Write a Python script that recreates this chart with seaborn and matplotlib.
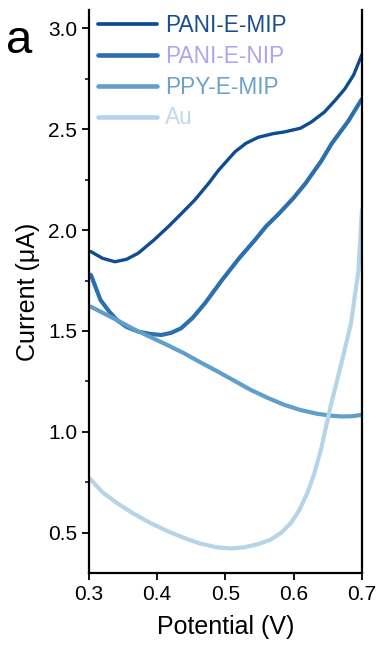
import matplotlib
matplotlib.use("Agg")
import matplotlib.pyplot as plt
from matplotlib.ticker import MultipleLocator
import seaborn as sns
import pandas as pd

# 数据
labels = ["PANI-E-MIP", "PANI-E-NIP", "PPY-E-MIP", "Au"]

x_mip = [0.300, 0.303, 0.320, 0.338, 0.355, 0.372, 0.395, 0.416, 0.435, 0.455, 0.475, 0.490,
         0.514, 0.530, 0.548, 0.570, 0.587, 0.610, 0.626, 0.645, 0.661, 0.675, 0.688, 0.700]
y_mip = [1.895, 1.893, 1.860, 1.843, 1.855, 1.885, 1.950, 2.016, 2.080, 2.149, 2.230, 2.297,
         2.388, 2.430, 2.460, 2.478, 2.487, 2.505, 2.536, 2.585, 2.644, 2.700, 2.770, 2.870]

x_nip = [0.300, 0.303, 0.317, 0.330, 0.341, 0.355, 0.372, 0.390, 0.406, 0.420, 0.435, 0.452,
         0.470, 0.495, 0.520, 0.543, 0.560, 0.578, 0.600, 0.617, 0.640, 0.656, 0.680, 0.700]
y_nip = [1.780, 1.777, 1.653, 1.595, 1.554, 1.520, 1.497, 1.485, 1.480, 1.490, 1.513, 1.565,
         1.637, 1.752, 1.860, 1.950, 2.020, 2.080, 2.160, 2.230, 2.340, 2.430, 2.540, 2.650]

x_ppy = [0.300, 0.303, 0.320, 0.341, 0.365, 0.390, 0.415, 0.439, 0.463, 0.488, 0.512, 0.537,
         0.562, 0.586, 0.610, 0.635, 0.655, 0.670, 0.685, 0.700]
y_ppy = [1.620, 1.620, 1.590, 1.554, 1.510, 1.470, 1.430, 1.390, 1.345, 1.300, 1.255, 1.208,
         1.168, 1.134, 1.108, 1.089, 1.080, 1.076, 1.077, 1.084]

x_au = [0.300, 0.303, 0.320, 0.341, 0.365, 0.390, 0.415, 0.439, 0.463, 0.488, 0.507, 0.527,
        0.548, 0.566, 0.582, 0.596, 0.608, 0.620, 0.630, 0.640, 0.654, 0.670, 0.684, 0.695, 0.700]
y_au = [0.770, 0.762, 0.700, 0.647, 0.595, 0.548, 0.508, 0.474, 0.446, 0.427, 0.422, 0.427,
        0.443, 0.465, 0.500, 0.548, 0.610, 0.696, 0.790, 0.911, 1.125, 1.340, 1.538, 1.800, 2.100]

series_x = [x_mip, x_nip, x_ppy, x_au]
series_y = [y_mip, y_nip, y_ppy, y_au]

line_colors = ["#0f4c91", "#2c6fad", "#609fcb", "#b6d4e8"]
text_colors = ["#1a4f8e", "#b3a3ee", "#6ba3c8", "#c2d9ea"]
line_widths = [2.4, 3.0, 3.0, 3.0]

df = pd.concat([
    pd.DataFrame({"Potential": xs, "Current": ys, "sample": lab})
    for xs, ys, lab in zip(series_x, series_y, labels)
], ignore_index=True)

sns.set_style("ticks")
plt.rcParams["font.family"] = ["Liberation Sans", "DejaVu Sans"]
plt.rcParams["text.color"] = "black"
plt.rcParams["axes.labelcolor"] = "black"
plt.rcParams["xtick.color"] = "black"
plt.rcParams["ytick.color"] = "black"

fig = plt.figure(figsize=(3.85, 6.59), dpi=100)
ax = fig.add_axes([0.231, 0.1305, 0.709, 0.854])

# 绘制曲线
for lab, col, lw in zip(labels, line_colors, line_widths):
    sns.lineplot(data=df[df["sample"] == lab], x="Potential", y="Current",
                 color=col, linewidth=lw, sort=False, ax=ax, label=lab,
                 solid_capstyle="round")

ax.set_xlim(0.3, 0.7)
ax.set_ylim(0.3, 3.09)
ax.set_xticks([0.3, 0.4, 0.5, 0.6, 0.7])
ax.set_yticks([0.5, 1.0, 1.5, 2.0, 2.5, 3.0])
ax.yaxis.set_minor_locator(MultipleLocator(0.25))
ax.tick_params(axis="both", which="major", direction="out", length=5, width=1.3,
               labelsize=15, color="black", labelcolor="black")
ax.tick_params(axis="y", which="minor", direction="out", length=3, width=1.1)
ax.set_xticklabels(["0.3", "0.4", "0.5", "0.6", "0.7"])
ax.set_yticklabels(["0.5", "1.0", "1.5", "2.0", "2.5", "3.0"])

for side in ["left", "bottom", "right"]:
    ax.spines[side].set_linewidth(1.6)
    ax.spines[side].set_color("black")
ax.spines["top"].set_visible(False)

ax.set_xlabel("Potential (V)", fontsize=18, labelpad=8, color="black")
ax.set_ylabel("Current (μA)", fontsize=18, labelpad=6, color="black")

# 图例：文字颜色与曲线对应
leg = ax.legend(loc="upper left", bbox_to_anchor=(-0.016, 1.018), frameon=False,
                fontsize=16.3, handlelength=2.6, handletextpad=0.36,
                labelspacing=0.35, borderaxespad=0.2)
for txt, tc in zip(leg.get_texts(), text_colors):
    txt.set_color(tc)
for h, lw in zip(leg.get_lines(), line_widths):
    h.set_linewidth(lw + 0.3)

fig.text(0.015, 0.92, "a", fontsize=34, ha="left", va="baseline", color="black")

fig.savefig("out.png", dpi=100)
